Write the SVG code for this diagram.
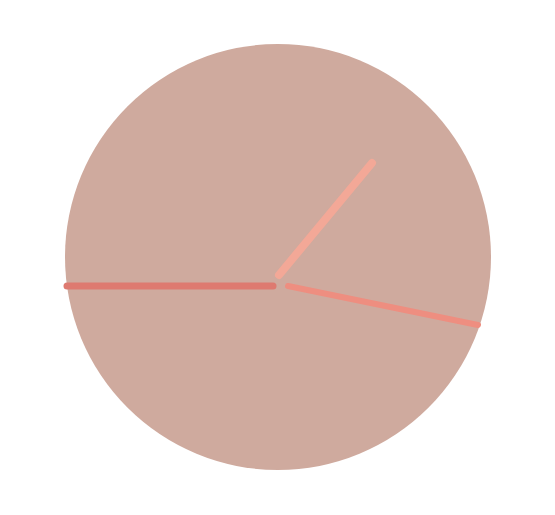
<svg xmlns="http://www.w3.org/2000/svg" width="555" height="515" viewBox="0 0 555 515">
<style>
.hand{fill:none;stroke-linecap:round}
</style>
<rect width="555" height="515" fill="#ffffff"/>
<g id="face"><circle cx="278" cy="257" r="213" fill="#cfaa9e"/></g>
<g id="hands">
<line class="hand" x1="67" y1="286" x2="273" y2="286" stroke="#de7a70" stroke-width="7" stroke-linecap="butt"/>
<line class="hand" x1="279" y1="275" x2="372" y2="163" stroke="#f3a897" stroke-width="8"/>
<line class="hand" x1="288" y1="286" x2="478" y2="325" stroke="#ee8e80" stroke-width="6"/>
</g>
</svg>
